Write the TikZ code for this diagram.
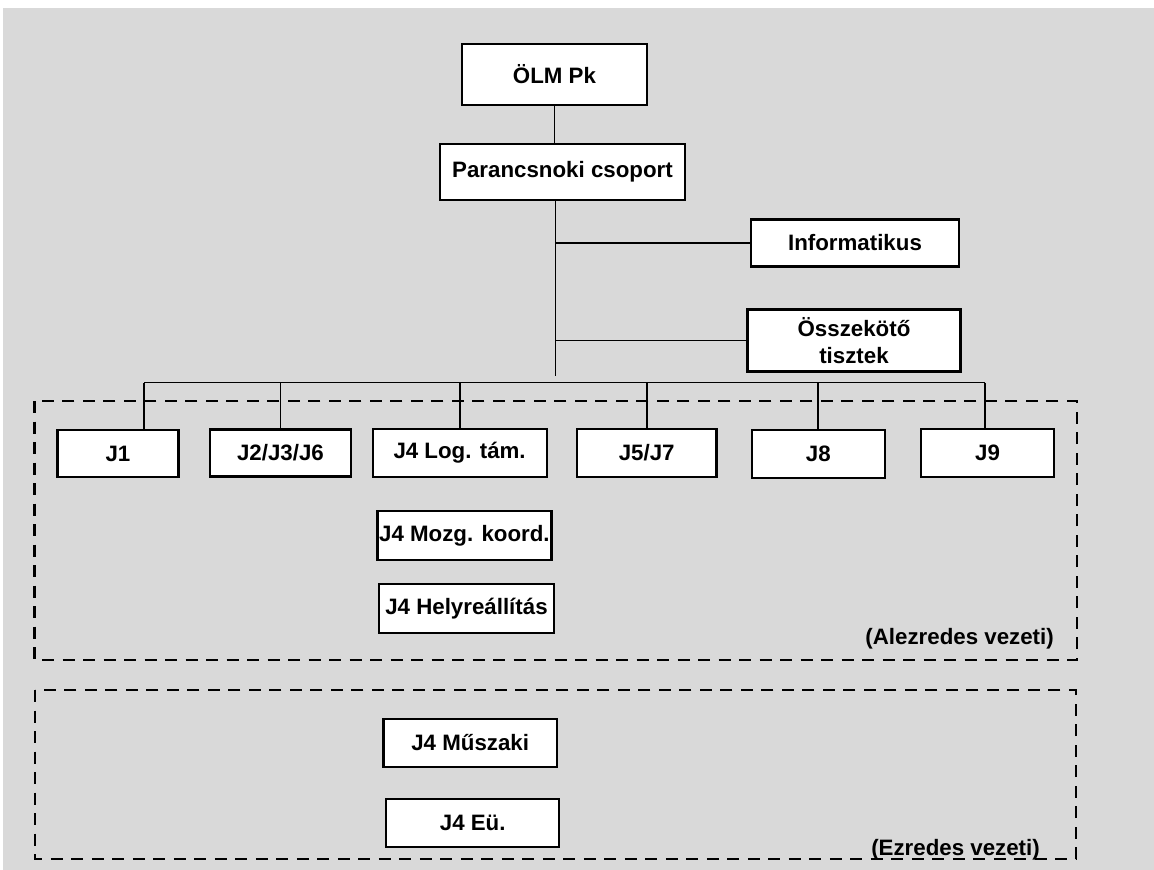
\documentclass[tikz,border=0pt]{standalone}
\usepackage{fontspec}
\setmainfont{Liberation Sans}
\definecolor{bggray}{RGB}{217,217,217}
\begin{document}
\begin{tikzpicture}[x=1pt,y=-1pt,
  unit/.style={draw=black, fill=white, line width=2.2pt, inner sep=0pt, align=center,
               font=\fontsize{22.3}{26.3}\selectfont\bfseries},
  link/.style={draw=black, line width=1.8pt},
  group/.style={draw=black, line width=2.2pt, dash pattern=on 12pt off 8.5pt},
  note/.style={inner sep=0pt, font=\fontsize{22.3}{26.3}\selectfont\bfseries}]
\useasboundingbox (0,0) rectangle (1154,870);
\fill[white] (0,0) rectangle (1154,870);
\fill[bggray] (3,8) rectangle (1154,870);

% dashed groupings
\draw[group] (34.5,401) rectangle (1076.7,660);
\draw[group] (35.3,690) rectangle (1075.8,859);

% command chain
\node[unit, minimum width=185pt, minimum height=61pt] (olm) at (554.5,74.5) {ÖLM Pk};
\node[unit, minimum width=245pt, minimum height=56pt] (par) at (562.5,172) {Parancsnoki csoport};
\node[unit, minimum width=208pt, minimum height=47pt] (inf) at (855,243) {Informatikus};
\node[unit, minimum width=213pt, minimum height=62pt] (ossz) at (854,340.5) {Összekötő\\tisztek};

% staff sections
\node[unit, minimum width=121pt, minimum height=47pt] (j1) at (118,453.7) {J1};
\node[unit, minimum width=140.5pt, minimum height=47pt] (j2) at (280.5,453) {J2/J3/J6};
\node[unit, minimum width=174pt, minimum height=48pt] (j4) at (459.6,453) {J4 Log. tám.};
\node[unit, minimum width=139.4pt, minimum height=48pt] (j5) at (646.7,453) {J5/J7};
\node[unit, minimum width=132.6pt, minimum height=48pt] (j8) at (818.3,454) {J8};
\node[unit, minimum width=133pt, minimum height=48pt] (j9) at (987.5,453) {J9};
\node[unit, minimum width=174pt, minimum height=48.4pt] (mozg) at (464.4,535.5) {J4 Mozg. koord.};
\node[unit, minimum width=174.5pt, minimum height=48.7pt] (hely) at (466.5,608.7) {J4 Helyreállítás};
\node[unit, minimum width=173.6pt, minimum height=48.3pt] (musz) at (470.2,743) {J4 Műszaki};
\node[unit, minimum width=173pt, minimum height=48.3pt] (eu) at (472.7,822.9) {J4 Eü.};

\node[note, anchor=east] (alez) at (1054,639) {(Alezredes vezeti)};
\node[note, anchor=east] (ezr) at (1040,849.5) {(Ezredes vezeti)};

% connectors
\coordinate (tend) at (555.5,376);
\coordinate (b1) at (144,382.5);
\coordinate (b9) at (984.6,382.5);
\draw[link] (olm.south) -- (olm.south |- par.north);
\draw[link] (par.south -| tend) -- (tend);
\draw[link] (tend |- inf.west) -- (inf.west);
\draw[link] (tend |- ossz.west) -- (ossz.west);
\draw[link] (b1) -- (b9);
\draw[link] (b1) -- (b1 |- j1.north);
\draw[link] (j2.north |- b1) -- (j2.north);
\draw[link] (j4.north |- b1) -- (j4.north);
\draw[link] (j5.north |- b1) -- (j5.north);
\draw[link] (j8.north |- b1) -- (j8.north);
\draw[link] (b9) -- (b9 |- j9.north);
\end{tikzpicture}
\end{document}
